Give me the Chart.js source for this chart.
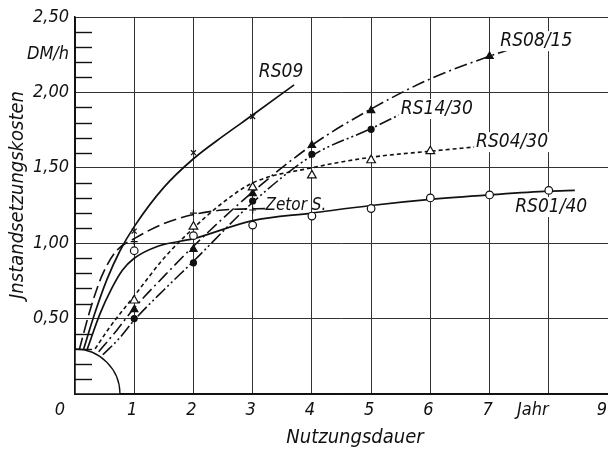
<!DOCTYPE html>
<html><head><meta charset="utf-8">
<script src="https://cdn.jsdelivr.net/npm/chart.js@4"></script>
<style>html,body{margin:0;padding:0;background:#fff;overflow:hidden}#wrap{width:608px;height:453px;position:relative}</style>
</head><body><div id="wrap"><canvas id="c"></canvas></div>
<script>
// ---- tick labels ----
const xTickValues = [0,1,2,3,4,5,6,7,8,9];
const xTickLabels = ['0','1','2','3','4','5','6','7','Jahr','9'];
const yTickValues = [0.5,1.0,1.5,2.0,2.5];
const yTickLabels = ['0,50','1,00','1,50','2,00','2,50'];

// ---- curves ----
const rs09CurveX = [0.14,0.33,0.54,0.76,1,1.5,2,2.5,3,3.7];
const rs09CurveY = [0.29,0.53,0.76,0.95,1.11,1.37,1.56,1.71,1.85,2.05];
const zetorCurveX = [0.07,0.25,0.45,0.7,1,1.5,2,2.5,3.25];
const zetorCurveY = [0.29,0.55,0.78,0.95,1.03,1.13,1.19,1.22,1.23];
const rs0140CurveX = [0.2,0.42,0.62,0.8,1,1.4,2,3,4,5,6,7,8,8.44];
const rs0140CurveY = [0.29,0.53,0.70,0.82,0.90,0.98,1.03,1.15,1.20,1.25,1.29,1.32,1.345,1.35];
const rs0430CurveX = [0.34,0.6,1,1.5,2,2.5,3,4,5,6,6.8];
const rs0430CurveY = [0.30,0.45,0.65,0.90,1.10,1.27,1.40,1.50,1.57,1.61,1.64];
const rs0815CurveX = [0.40,0.7,1,1.5,2,3,4,5,6,7,7.3];
const rs0815CurveY = [0.28,0.42,0.57,0.78,0.98,1.34,1.65,1.89,2.09,2.24,2.28];
const rs1430CurveX = [0.47,0.75,1,1.5,2,3,4,5,5.47];
const rs1430CurveY = [0.26,0.37,0.49,0.69,0.88,1.27,1.58,1.76,1.85];

// ---- measured points (markers) ----
const rs09MarkX = [1,2,3];        const rs09MarkY = [1.08,1.60,1.84];
const zetorMarkX = [1,2,3];       const zetorMarkY = [1.01,1.20,1.22];
const rs0140MarkX = [1,2,3,4,5,6,7,8]; const rs0140MarkY = [0.95,1.05,1.12,1.18,1.23,1.30,1.32,1.35];
const rs0430MarkX = [1,2,3,4,5,6]; const rs0430MarkY = [0.62,1.11,1.37,1.45,1.55,1.61];
const rs0815MarkX = [1,2,3,4,5,7]; const rs0815MarkY = [0.56,0.96,1.33,1.65,1.88,2.24];
const rs1430MarkX = [1,2,3,4,5];  const rs1430MarkY = [0.50,0.87,1.28,1.59,1.755];

// ---- curve labels (text + anchor in data units) ----
const seriesLabels = ['RS09','RS08/15','RS14/30','RS04/30','RS01/40','Zetor S.'];
const seriesLabelX = [3.48,7.79,6.11,7.38,8.04,3.73];
const seriesLabelY = [2.135,2.34,1.89,1.67,1.24,1.25];

const pts = (xs, ys) => xs.map((x,i)=>({x, y: ys[i]}));
const FAM = "'DejaVu Sans Condensed','DejaVu Sans',sans-serif";
const INK = '#111';

function curve(label, xs, ys, dash, w){
  return {type:'line', label, data: pts(xs,ys), borderColor:INK, borderWidth:w||1.6,
    borderDash:dash, pointRadius:0, cubicInterpolationMode:'monotone', fill:false, order:1, clip:false};
}
function marks(label, xs, ys, style, r, bg, bw){
  return {type:'scatter', label, data: pts(xs,ys), showLine:false, pointStyle:style,
    pointRadius:r, pointHoverRadius:r, backgroundColor:bg, borderColor:INK, pointBorderWidth:bw||1.2, borderWidth:bw||1.2, order:0};
}

const stretch = {
  id:'stretch',
  afterLayout(chart){
    const W = chart.width, ca = chart.chartArea, x = chart.scales.x, y = chart.scales.y;
    if (ca.right < W) {
      ca.right = W; ca.width = W - ca.left;
      x.right = W; x.width = W - x.left;
      x.configure();
      x._labelItems = null; x._gridLineItems = null; y._gridLineItems = null;
    }
  }
};

const deco = {
  id:'deco',
  afterDatasetsDraw(chart){
    const {ctx, scales:{x,y}, chartArea:ca} = chart;
    const ox = x.getPixelForValue(0), oy = y.getPixelForValue(0);
    ctx.save();
    // quarter circle at origin
    const r = 45;
    ctx.beginPath(); ctx.moveTo(ox,oy); ctx.arc(ox,oy,r,-Math.PI/2,0); ctx.closePath();
    ctx.fillStyle='#fff'; ctx.fill();
    ctx.beginPath(); ctx.arc(ox,oy,r,-Math.PI/2,0); ctx.strokeStyle=INK; ctx.lineWidth=1.3; ctx.stroke();
    // axes lines
    ctx.lineWidth=1.5; ctx.beginPath();
    ctx.moveTo(ox, ca.top); ctx.lineTo(ox, oy); ctx.lineTo(ca.right, oy); ctx.stroke();
    // minor ticks on inside of y axis
    ctx.lineWidth=1.4;
    for (let k=1;k<25;k++){
      if (k%5===0) continue;
      const py = Math.round(y.getPixelForValue(k/10))+0.5;
      ctx.beginPath(); ctx.moveTo(ox,py); ctx.lineTo(ox+17,py); ctx.stroke();
    }
    // x tick labels
    ctx.fillStyle=INK; ctx.textAlign='center'; ctx.textBaseline='middle';
    ctx.font='italic 18px '+FAM;
    xTickValues.forEach((v,i)=>{
      const t = xTickLabels[i];
      let dx = -2;
      if (v===0) dx = -15;
      if (t==='Jahr') dx = -16;
      if (v===9) dx = -6;
      ctx.fillText(t, x.getPixelForValue(v)+dx, oy+16);
    });
    // curve labels
    seriesLabels.forEach((t,i)=>{
      const px = x.getPixelForValue(seriesLabelX[i]), py = y.getPixelForValue(seriesLabelY[i]);
      const isZ = t.startsWith('Zetor');
      ctx.font = 'italic '+(isZ?17:19)+'px '+FAM;
      if (!isZ){
        const w = ctx.measureText(t).width;
        ctx.fillStyle='#fff'; ctx.fillRect(px-w/2-2, py-10, w+4, 20);
      }
      ctx.fillStyle=INK; ctx.fillText(t, px, py);
    });
    // DM/h unit
    ctx.font='italic 18px '+FAM;
    ctx.fillText('DM/h', 48, y.getPixelForValue(2.25));
    // axis titles
    ctx.font='italic 20px '+FAM;
    ctx.fillText('Nutzungsdauer', 355, 438);
    ctx.translate(18,195); ctx.rotate(-Math.PI/2);
    ctx.fillText('Jnstandsetzungskosten', 0, 0);
    ctx.restore();
  }
};

new Chart(document.getElementById('c'), {
  data: {datasets: [
    marks('RS09 Messwerte', rs09MarkX, rs09MarkY, 'crossRot', 3.5, INK),
    marks('Zetor S. Messwerte', zetorMarkX, zetorMarkY, 'cross', 3.5, INK),
    marks('RS01/40 Messwerte', rs0140MarkX, rs0140MarkY, 'circle', 3.8, '#fff'),
    marks('RS04/30 Messwerte', rs0430MarkX, rs0430MarkY, 'triangle', 5, '#fff'),
    marks('RS08/15 Messwerte', rs0815MarkX, rs0815MarkY, 'triangle', 4.2, INK),
    marks('RS14/30 Messwerte', rs1430MarkX, rs1430MarkY, 'circle', 3, INK),
    curve('RS09', rs09CurveX, rs09CurveY, [], 1.7),
    curve('Zetor S.', zetorCurveX, zetorCurveY, [13,5], 1.6),
    curve('RS01/40', rs0140CurveX, rs0140CurveY, [], 1.7),
    curve('RS04/30', rs0430CurveX, rs0430CurveY, [4,3], 1.6),
    curve('RS08/15', rs0815CurveX, rs0815CurveY, [13,4,2,4], 1.6),
    curve('RS14/30', rs1430CurveX, rs1430CurveY, [13,3,2,3,2,3], 1.6)
  ]},
  options: {
    responsive:true, maintainAspectRatio:false, animation:false,
    layout:{padding:{top:17,right:0,left:0,bottom:0}},
    plugins:{legend:{display:false}, tooltip:{enabled:false}},
    scales:{
      x:{type:'linear', min:0, max:9,
        afterBuildTicks:s=>{s.ticks = xTickValues.map(v=>({value:v}));},
        ticks:{display:false},
        grid:{color:'#333', lineWidth:1, drawTicks:false},
        border:{color:INK, width:1.5},
        afterFit:s=>{s.height=59; s.paddingLeft=0; s.paddingRight=0;}
      },
      y:{type:'linear', min:0, max:2.5,
        afterBuildTicks:s=>{s.ticks = [0].concat(yTickValues).map(v=>({value:v}));},
        ticks:{autoSkip:false, padding:6, color:INK,
          font:{family:FAM, size:18, style:'italic'},
          callback:v=>{const i=yTickValues.indexOf(v); return i<0?'':yTickLabels[i];}},
        grid:{color:'#333', lineWidth:1, drawTicks:false},
        border:{color:INK, width:1.5},
        afterFit:s=>{s.width=75; s.paddingTop=0; s.paddingBottom=0; s.paddingLeft=0; s.paddingRight=0;}
      }
    }
  },
  plugins:[stretch, deco]
});
</script></body></html>
